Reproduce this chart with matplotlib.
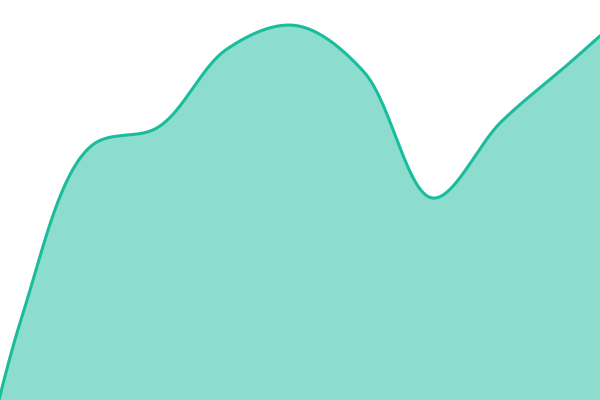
import numpy as np
import matplotlib
matplotlib.use("Agg")
import matplotlib.pyplot as plt

# series values (one point per category, evenly spaced)
categories = list(range(11))
values = [0.0, 28.2, 45.3, 47.3, 55.1, 57.45, 52.8, 40.2, 47.8, 53.7, 59.8]

LINE = "#1abc9c"


def catmull_rom(pts, alpha=0.5, n=40):
    # centripetal Catmull-Rom, like d3.curveCatmullRom (works in pixel space)
    out = [pts[0]]
    t = np.linspace(0, 1, n)[1:, None]
    for i in range(len(pts) - 1):
        p1, p2 = pts[i], pts[i + 1]
        d12 = np.hypot(*(p2 - p1))
        l12_a, l12_2a = d12 ** alpha, d12 ** (2 * alpha)
        c1, c2 = p1.copy(), p2.copy()
        if i > 0:
            p0 = pts[i - 1]
            d01 = np.hypot(*(p1 - p0))
            l01_a, l01_2a = d01 ** alpha, d01 ** (2 * alpha)
            a = 2 * l01_2a + 3 * l01_a * l12_a + l12_2a
            nn = 3 * l01_a * (l01_a + l12_a)
            c1 = (p1 * a - p0 * l12_2a + p2 * l01_2a) / nn
        if i + 2 < len(pts):
            p3 = pts[i + 2]
            d23 = np.hypot(*(p3 - p2))
            l23_a, l23_2a = d23 ** alpha, d23 ** (2 * alpha)
            b = 2 * l23_2a + 3 * l23_a * l12_a + l12_2a
            m = 3 * l23_a * (l23_a + l12_a)
            c2 = (p2 * b + p1 * l23_2a - p3 * l12_2a) / m
        seg = ((1 - t) ** 3 * p1 + 3 * (1 - t) ** 2 * t * c1
               + 3 * (1 - t) * t ** 2 * c2 + t ** 3 * p2)
        out.extend(seg)
    return np.array(out)


fig = plt.figure(figsize=(6, 4), dpi=100)
ax = fig.add_axes([0, 0, 1, 1])
ax.set_xlim(47 / 68.5, 647 / 68.5)
ax.set_ylim(20, 60)
ax.axis("off")

disp = ax.transData.transform(np.column_stack([categories, values]))
curve = ax.transData.inverted().transform(catmull_rom(disp))
xx, yy = curve[:, 0], curve[:, 1]

ax.fill_between(xx, yy, 0, color=LINE, alpha=0.5, linewidth=0)
ax.plot(xx, yy, color=LINE, lw=2.2, solid_capstyle="round")
fig.savefig("out.png", dpi=100)
